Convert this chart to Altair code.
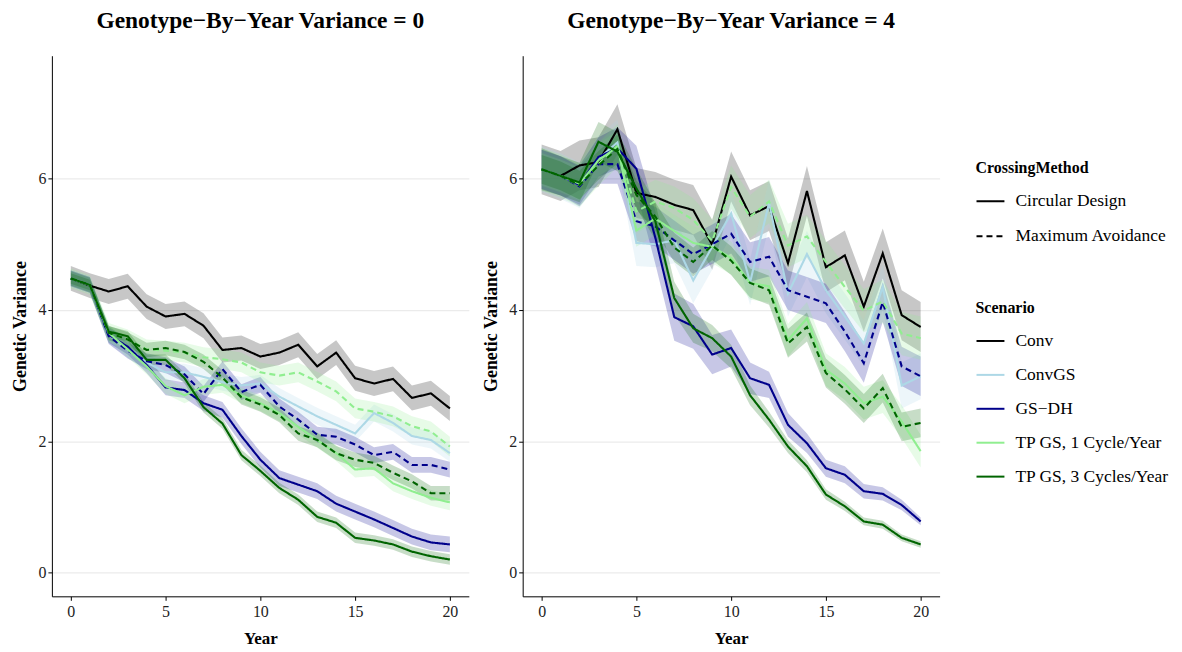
import altair as alt
import pandas as pd

years = list(range(21))
scenarios = ["Conv", "ConvGS", "GS−DH", "TP GS, 1 Cycle/Year", "TP GS, 3 Cycles/Year"]
scenario_colors = ["#000000", "#ADD8E6", "#00008B", "#90EE90", "#006400"]
methods = ["Circular Design", "Maximum Avoidance"]
panel_titles = ["Genotype−By−Year Variance = 0", "Genotype−By−Year Variance = 4"]

# ---- Panel: Genotype-By-Year Variance = 0 ----
conv_cd_0 = [4.48, 4.37, 4.28, 4.36, 4.05, 3.90, 3.94, 3.76, 3.39, 3.42, 3.29, 3.35, 3.47, 3.14, 3.35, 2.96, 2.88, 2.95, 2.66, 2.73, 2.50]
convgs_cd_0 = [4.48, 4.38, 3.62, 3.40, 3.20, 3.05, 3.05, 2.98, 2.90, 2.85, 2.88, 2.68, 2.53, 2.38, 2.25, 2.12, 2.43, 2.28, 2.08, 2.02, 1.82]
gsdh_cd_0 = [4.48, 4.38, 3.62, 3.44, 3.16, 2.82, 2.78, 2.58, 2.48, 2.08, 1.72, 1.44, 1.34, 1.24, 1.05, 0.93, 0.81, 0.68, 0.55, 0.46, 0.43]
gsdh_ma_0 = [4.48, 4.38, 3.60, 3.38, 3.22, 3.16, 3.02, 2.72, 3.10, 2.75, 2.86, 2.53, 2.33, 2.10, 2.07, 1.95, 1.79, 1.84, 1.64, 1.64, 1.57]
tp1_cd_0 = [4.48, 4.38, 3.65, 3.40, 3.14, 2.84, 2.70, 2.83, 2.86, 2.70, 2.58, 2.43, 2.22, 2.02, 1.82, 1.57, 1.59, 1.36, 1.24, 1.14, 1.07]
tp1_ma_0 = [4.48, 4.38, 3.65, 3.55, 3.40, 3.38, 3.35, 3.28, 3.25, 3.20, 3.05, 3.00, 3.05, 2.91, 2.76, 2.50, 2.45, 2.38, 2.23, 2.15, 1.92]
tp3_cd_0 = [4.48, 4.38, 3.67, 3.60, 3.24, 3.24, 2.96, 2.52, 2.27, 1.79, 1.55, 1.29, 1.11, 0.85, 0.76, 0.53, 0.49, 0.43, 0.32, 0.25, 0.20]
tp3_ma_0 = [4.48, 4.38, 3.65, 3.55, 3.39, 3.42, 3.36, 3.21, 2.97, 2.67, 2.56, 2.40, 2.12, 2.02, 1.82, 1.72, 1.67, 1.52, 1.39, 1.21, 1.21]
# ribbon half-widths (one per series, or one per year)
spread_0 = [0.19, 0.13, 0.12, 0.12, 0.12, 0.15, 0.08, 0.11]

# ---- Panel: Genotype-By-Year Variance = 4 ----
conv_cd_4 = [6.14, 6.04, 6.20, 6.25, 6.75, 5.78, 5.72, 5.60, 5.52, 4.99, 6.03, 5.44, 5.58, 4.71, 5.81, 4.65, 4.83, 4.05, 4.86, 3.92, 3.74]
convgs_cd_4 = [6.14, 6.04, 5.90, 6.30, 6.55, 5.02, 5.00, 5.06, 4.45, 4.96, 5.47, 4.42, 5.63, 4.25, 4.85, 4.30, 3.90, 3.49, 4.35, 2.85, 2.99]
gsdh_cd_4 = [6.14, 6.04, 5.90, 6.33, 6.46, 6.15, 5.10, 3.89, 3.75, 3.32, 3.42, 2.96, 2.86, 2.25, 1.97, 1.59, 1.49, 1.24, 1.20, 1.03, 0.78]
gsdh_ma_4 = [6.14, 6.04, 5.88, 6.22, 6.22, 5.35, 5.27, 5.06, 4.85, 5.00, 5.16, 4.73, 4.81, 4.30, 4.20, 4.10, 3.67, 3.19, 4.12, 3.14, 2.99]
tp1_cd_4 = [6.14, 6.04, 5.92, 6.28, 6.48, 5.21, 5.39, 5.20, 5.02, 4.96, 4.79, 4.41, 4.36, 3.54, 3.87, 3.09, 2.88, 2.58, 2.68, 2.30, 1.85]
tp1_ma_4 = [6.14, 6.04, 5.90, 6.22, 6.50, 5.50, 5.65, 5.55, 5.37, 5.05, 5.87, 5.42, 5.65, 4.98, 5.12, 4.73, 4.35, 3.99, 4.13, 3.64, 3.57]
tp3_cd_4 = [6.14, 6.04, 5.94, 6.56, 6.41, 5.85, 5.35, 4.18, 3.72, 3.57, 3.29, 2.70, 2.33, 1.92, 1.62, 1.19, 1.01, 0.78, 0.73, 0.53, 0.43]
tp3_ma_4 = [6.14, 6.04, 5.90, 6.20, 6.45, 5.75, 5.42, 4.95, 4.73, 4.98, 4.75, 4.41, 4.30, 3.49, 3.74, 3.04, 2.79, 2.50, 2.81, 2.22, 2.28]
gsdh_cd_4_spread = [0.30, 0.30, 0.30, 0.30, 0.32, 0.35, 0.40, 0.36, 0.34, 0.30, 0.28, 0.24, 0.20, 0.18, 0.15, 0.13, 0.13, 0.11, 0.10, 0.08, 0.06]
tp3_cd_4_spread = [0.32, 0.30, 0.30, 0.30, 0.30, 0.30, 0.28, 0.25, 0.22, 0.20, 0.18, 0.15, 0.12, 0.10, 0.09, 0.08, 0.07, 0.06, 0.06, 0.05, 0.05]
spread_4 = [0.38, 0.35, gsdh_cd_4_spread, 0.30, 0.25, 0.33, tp3_cd_4_spread, 0.22]

series_keys = [
    ("Conv", "Circular Design"),
    ("ConvGS", "Circular Design"),
    ("GS−DH", "Circular Design"),
    ("GS−DH", "Maximum Avoidance"),
    ("TP GS, 1 Cycle/Year", "Circular Design"),
    ("TP GS, 1 Cycle/Year", "Maximum Avoidance"),
    ("TP GS, 3 Cycles/Year", "Circular Design"),
    ("TP GS, 3 Cycles/Year", "Maximum Avoidance"),
]
panel_series = [
    [conv_cd_0, convgs_cd_0, gsdh_cd_0, gsdh_ma_0, tp1_cd_0, tp1_ma_0, tp3_cd_0, tp3_ma_0],
    [conv_cd_4, convgs_cd_4, gsdh_cd_4, gsdh_ma_4, tp1_cd_4, tp1_ma_4, tp3_cd_4, tp3_ma_4],
]
panel_spreads = [spread_0, spread_4]

FONT = "Liberation Serif"

color_enc = alt.Color(
    "Scenario:N",
    scale=alt.Scale(domain=scenarios, range=scenario_colors),
    legend=alt.Legend(
        title="Scenario", orient="none", legendX=926, legendY=245,
        symbolType="stroke", symbolSize=784, symbolStrokeWidth=2,
        labelOffset=10, rowPadding=10, titlePadding=10, padding=0,
    ),
)
dash_enc = alt.StrokeDash(
    "Method:N",
    scale=alt.Scale(domain=methods, range=[[1, 0], [6, 4]]),
    legend=alt.Legend(
        title="CrossingMethod", orient="none", legendX=926, legendY=105,
        symbolType="stroke", symbolSize=784, symbolStrokeWidth=2,
        symbolStrokeColor="black", labelOffset=10, rowPadding=11,
        titlePadding=10, padding=0,
    ),
)
# ribbon fill: same colours, data-driven (alphabetical) domain, no legend
fill_enc = alt.Fill(
    "RibbonGroup:N",
    scale=alt.Scale(range=scenario_colors),
    legend=None,
)

x_scale = alt.Scale(domain=[-1, 21], nice=False, zero=False)
y_scale = alt.Scale(domain=[-0.36, 7.87], nice=False, zero=False)
x_axis = alt.Axis(values=[0, 5, 10, 15, 20], title="Year", grid=False)
y_axis = alt.Axis(values=[0, 2, 4, 6], title="Genetic Variance", grid=True)


def make_panel(p):
    rows = []
    for (scen, meth), vals, sp in zip(series_keys, panel_series[p], panel_spreads[p]):
        sps = sp if isinstance(sp, list) else [sp] * len(vals)
        for yr, v, s in zip(years, vals, sps):
            rows.append({"Scenario": scen, "RibbonGroup": scen, "Method": meth,
                         "Year": yr, "Mean": v, "Lo": v - s, "Hi": v + s})
    df = pd.DataFrame(rows)
    base = alt.Chart(df)
    ribbon = base.mark_area(fillOpacity=0.22, strokeWidth=0).encode(
        x=alt.X("Year:Q", scale=x_scale, axis=x_axis),
        y=alt.Y("Lo:Q", scale=y_scale, axis=y_axis),
        y2="Hi:Q",
        fill=fill_enc,
        detail="Method:N",
    )
    line = base.mark_line(strokeWidth=2.1).encode(
        x=alt.X("Year:Q", scale=x_scale, axis=x_axis),
        y=alt.Y("Mean:Q", scale=y_scale, axis=y_axis),
        color=color_enc,
        strokeDash=dash_enc,
    )
    return alt.layer(ribbon, line).properties(
        width=418, height=542,
        title=alt.TitleParams(panel_titles[p], font=FONT, fontSize=23.5,
                              fontWeight="bold", anchor="middle", frame="group",
                              offset=23.5, color="black"),
    )


chart = alt.hconcat(make_panel(0), make_panel(1), spacing=14).resolve_scale(
    color="shared", strokeDash="shared"
).properties(
    padding={"left": 4, "top": 0, "right": 5, "bottom": 5}
).configure_view(strokeWidth=0).configure_axis(
    domainColor="black", domainWidth=1, tickColor="black", tickSize=4,
    labelFont=FONT, labelFontSize=16, labelColor="#222222", labelPadding=2,
    titleFont=FONT, titleFontSize=18, titleFontWeight="bold", titleColor="black",
    titlePadding=8, gridColor="#EBEBEB", gridWidth=1.2,
).configure_axisX(labelPadding=3, titlePadding=11, titleFontSize=17).configure_legend(
    titleFont=FONT, titleFontSize=16, titleFontWeight="bold", titleColor="black",
    labelFont=FONT, labelFontSize=17.5, labelColor="black",
)

chart.save("out.html", embed_options={"renderer": "svg", "actions": False})
